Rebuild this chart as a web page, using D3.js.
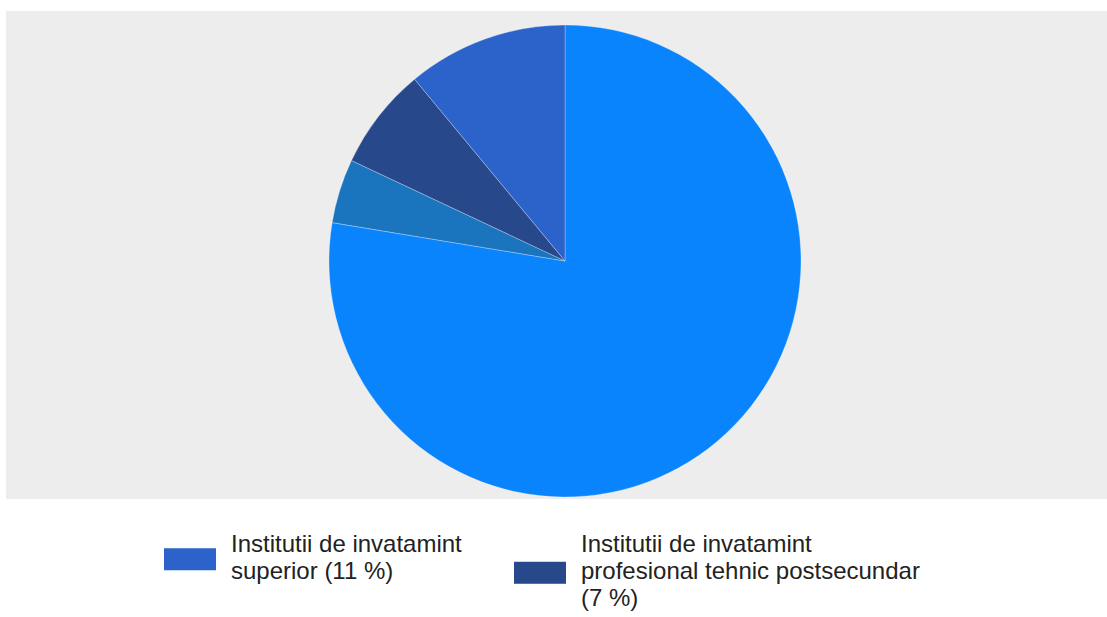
<!DOCTYPE html>
<html>
<head>
<meta charset="utf-8">
<script src="https://cdn.jsdelivr.net/npm/d3@7"></script>
<style>
  html, body { margin: 0; padding: 0; background: #ffffff; }
  svg { display: block; }
  text { font-family: "Liberation Sans", Arial, sans-serif; fill: #222222; }
</style>
</head>
<body>
<svg id="chart" width="1107" height="617"></svg>
<script>
// Slice values (percent), drawn clockwise from 12 o'clock
const sliceValues = [77.6, 4.4, 7, 11];
const sliceColors = ["#0a84fc", "#1a74be", "#27498b", "#2b63cb"];
// Legend entries: index into the slices, and the wrapped label lines
const legendIndex = [3, 2];
const legendLines = [
  ["Institutii de invatamint", "superior (11 %)"],
  ["Institutii de invatamint", "profesional tehnic postsecundar", "(7 %)"]
];

const W = 1107, H = 617;
const svg = d3.select("#chart");

// plot area background
svg.append("rect")
  .attr("x", 6).attr("y", 11)
  .attr("width", W - 6).attr("height", 488)
  .attr("fill", "#ededed");

const cx = 565, cy = 261, r = 236;

const pie = d3.pie().sort(null).value(d => d)
  .startAngle(0).endAngle(2 * Math.PI);
const arc = d3.arc().innerRadius(0).outerRadius(r);

svg.append("g")
  .attr("transform", `translate(${cx},${cy})`)
  .selectAll("path")
  .data(pie(sliceValues))
  .join("path")
  .attr("d", arc)
  .attr("fill", (d, i) => sliceColors[i])
  .attr("stroke", "rgba(255,255,255,0.35)")
  .attr("stroke-width", 0.8);

// legend
const legendX = [164, 514];
const lineH = 27;
const fontSize = 24;
const legend = svg.append("g");

legendIndex.forEach((si, k) => {
  const lines = legendLines[k];
  const g = legend.append("g");
  const topBase = 552;
  const blockTop = topBase - fontSize * 0.72;
  const blockBottom = topBase + (lines.length - 1) * lineH + fontSize * 0.2;
  const midY = (blockTop + blockBottom) / 2;
  g.append("rect")
    .attr("x", legendX[k]).attr("y", midY - 11)
    .attr("width", 52).attr("height", 22)
    .attr("fill", sliceColors[si]);
  const t = g.append("text")
    .attr("x", legendX[k] + 67)
    .attr("y", topBase)
    .attr("font-size", fontSize);
  lines.forEach((ln, j) => {
    t.append("tspan")
      .attr("x", legendX[k] + 67)
      .attr("y", topBase + j * lineH)
      .text(ln);
  });
});
</script>
</body>
</html>
